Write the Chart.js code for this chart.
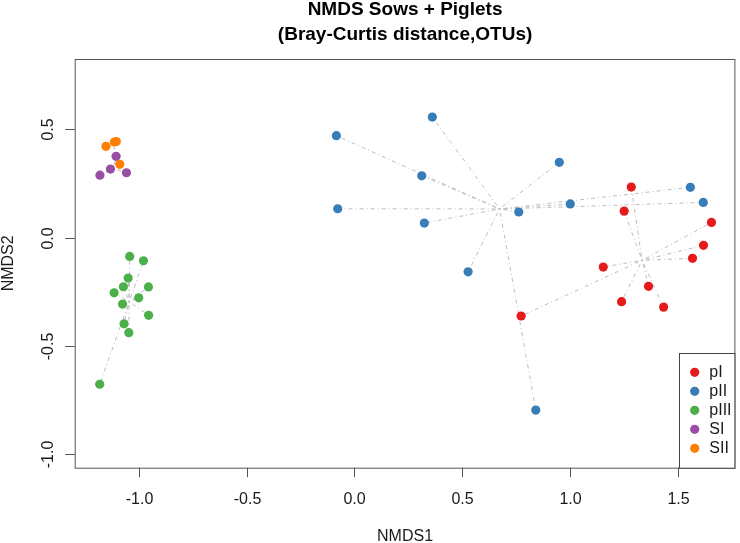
<!DOCTYPE html>
<html>
<head>
<meta charset="utf-8">
<script src="https://cdn.jsdelivr.net/npm/chart.js@4/dist/chart.umd.min.js"></script>
<style>
  html, body { margin: 0; padding: 0; background: #fff; }
  canvas { display: block; }
</style>
</head>
<body>
<canvas id="nmds" width="740" height="543"></canvas>
<script>
// groups and colours
const groups = ['pI', 'pII', 'pIII', 'SI', 'SII'];
const colors = ['#E41A1C', '#377EB8', '#4DAF4A', '#984EA3', '#FF7F00'];

// NMDS scores
const pI_x = [1.285, 1.252, 1.657, 1.620, 1.569, 1.155, 1.365, 1.240, 1.435, 0.774];
const pI_y = [0.233, 0.122, 0.070, -0.036, -0.096, -0.136, -0.225, -0.296, -0.321, -0.362];

const pII_x = [0.362, -0.083, 0.313, -0.077, 0.325, 0.763, 0.528, 0.842, 0.951, 1.002, 1.559, 1.619];
const pII_y = [0.556, 0.470, 0.285, 0.133, 0.067, 0.118, -0.158, -0.796, 0.347, 0.155, 0.232, 0.162];

const pIII_x = [-1.042, -0.978, -1.049, -1.071, -0.955, -1.114, -1.000, -1.075, -0.954, -1.068, -1.046, -1.181];
const pIII_y = [-0.087, -0.107, -0.187, -0.227, -0.228, -0.255, -0.278, -0.307, -0.359, -0.398, -0.439, -0.677];

const SI_x = [-1.105, -1.131, -1.180, -1.057];
const SI_y = [0.375, 0.316, 0.288, 0.299];

const SII_x = [-1.152, -1.113, -1.104, -1.088];
const SII_y = [0.421, 0.441, 0.443, 0.338];

// spider centres (group centroids as drawn)
const centre_x = [1.335, 0.674, -1.044, -1.118, -1.114];
const centre_y = [-0.105, 0.132, -0.296, 0.319, 0.411];

// axes
const xTicks = [-1.0, -0.5, 0.0, 0.5, 1.0, 1.5];
const yTicks = [-1.0, -0.5, 0.0, 0.5];
const xRange = [-1.297, 1.768];
const yRange = [-1.062, 0.824];

const allX = [pI_x, pII_x, pIII_x, SI_x, SII_x];
const allY = [pI_y, pII_y, pIII_y, SI_y, SII_y];

const FONT = '"Liberation Sans", Arial, Helvetica, sans-serif';

function toPoints(xs, ys) {
    return xs.map((x, i) => ({ x: x, y: ys[i] }));
}

const datasets = groups.map((g, i) => ({
    label: g,
    data: toPoints(allX[i], allY[i]),
    backgroundColor: colors[i],
    borderWidth: 0,
    pointRadius: 4.6,
    pointHoverRadius: 4.6
}));

// ordispider-like lines from each point to its group centre
const spiderPlugin = {
    id: 'spider',
    beforeDatasetsDraw(chart) {
        const ctx = chart.ctx;
        const xs = chart.scales.x, ys = chart.scales.y;
        ctx.save();
        ctx.strokeStyle = '#bdbdbd';
        ctx.lineWidth = 1;
        ctx.setLineDash([1, 3, 4, 3]);
        for (let g = 0; g < groups.length; g++) {
            const cx = xs.getPixelForValue(centre_x[g]);
            const cy = ys.getPixelForValue(centre_y[g]);
            for (let i = 0; i < allX[g].length; i++) {
                ctx.beginPath();
                ctx.moveTo(cx, cy);
                ctx.lineTo(xs.getPixelForValue(allX[g][i]), ys.getPixelForValue(allY[g][i]));
                ctx.stroke();
            }
        }
        ctx.restore();
    }
};

// base-R style frame, axes, titles and legend
const framePlugin = {
    id: 'frame',
    afterDraw(chart) {
        const ctx = chart.ctx;
        const a = chart.chartArea;
        const xs = chart.scales.x, ys = chart.scales.y;
        ctx.save();
        ctx.strokeStyle = '#555';
        ctx.lineWidth = 1;
        ctx.strokeRect(a.left + 0.5, a.top + 0.5, a.right - a.left - 1, a.bottom - a.top);

        ctx.fillStyle = '#1a1a1a';
        ctx.font = '16px ' + FONT;

        // x axis ticks + labels
        ctx.textAlign = 'center';
        ctx.textBaseline = 'alphabetic';
        xTicks.forEach(v => {
            const px = Math.round(xs.getPixelForValue(v)) + 0.5;
            ctx.beginPath();
            ctx.moveTo(px, a.bottom);
            ctx.lineTo(px, a.bottom + 9.5);
            ctx.stroke();
            ctx.fillText(v.toFixed(1), px, 504);
        });

        // y axis ticks + rotated labels
        yTicks.forEach(v => {
            const py = Math.round(ys.getPixelForValue(v)) + 0.5;
            ctx.beginPath();
            ctx.moveTo(a.left, py);
            ctx.lineTo(a.left - 9.5, py);
            ctx.stroke();
            ctx.save();
            ctx.translate(52.5, py);
            ctx.rotate(-Math.PI / 2);
            ctx.fillText(v.toFixed(1), 0, 0);
            ctx.restore();
        });

        // axis titles
        const midX = (a.left + a.right) / 2;
        const midY = (a.top + a.bottom) / 2;
        ctx.fillText('NMDS1', midX, 540.5);
        ctx.save();
        ctx.translate(13, midY);
        ctx.rotate(-Math.PI / 2);
        ctx.fillText('NMDS2', 0, 0);
        ctx.restore();

        // main title
        ctx.font = 'bold 19px ' + FONT;
        ctx.fillStyle = '#000';
        ctx.fillText('NMDS Sows + Piglets', midX, 15);
        ctx.fillText('(Bray-Curtis distance,OTUs)', midX, 39.5);

        // legend, bottom right
        const lgLeft = 679.5, lgRight = a.right - 0.5, lgBottom = a.bottom + 0.5, lgTop = 353.5;
        ctx.fillStyle = '#fff';
        ctx.fillRect(lgLeft, lgTop, lgRight - lgLeft, lgBottom - lgTop);
        ctx.strokeStyle = '#444';
        ctx.strokeRect(lgLeft, lgTop, lgRight - lgLeft, lgBottom - lgTop);
        ctx.font = '16px ' + FONT;
        ctx.textAlign = 'left';
        ctx.textBaseline = 'middle';
        chart.data.datasets.forEach((ds, i) => {
            const rowY = 372.3 + 19 * i;
            ctx.fillStyle = ds.backgroundColor;
            ctx.beginPath();
            ctx.arc(694.7, rowY, 4.6, 0, Math.PI * 2);
            ctx.fill();
            ctx.fillStyle = '#1a1a1a';
            ctx.fillText(ds.label, 709.3, rowY + 0.5);
        });
        ctx.restore();
    }
};

new Chart(document.getElementById('nmds'), {
    type: 'scatter',
    data: { datasets: datasets },
    options: {
        responsive: false,
        animation: false,
        devicePixelRatio: 1,
        layout: { padding: { left: 74.7, right: 1, top: 59, bottom: 75.3 } },
        scales: {
            x: { type: 'linear', display: false, min: xRange[0], max: xRange[1] },
            y: { type: 'linear', display: false, min: yRange[0], max: yRange[1] }
        },
        plugins: {
            legend: { display: false },
            tooltip: { enabled: true }
        }
    },
    plugins: [spiderPlugin, framePlugin]
});
</script>
</body>
</html>
